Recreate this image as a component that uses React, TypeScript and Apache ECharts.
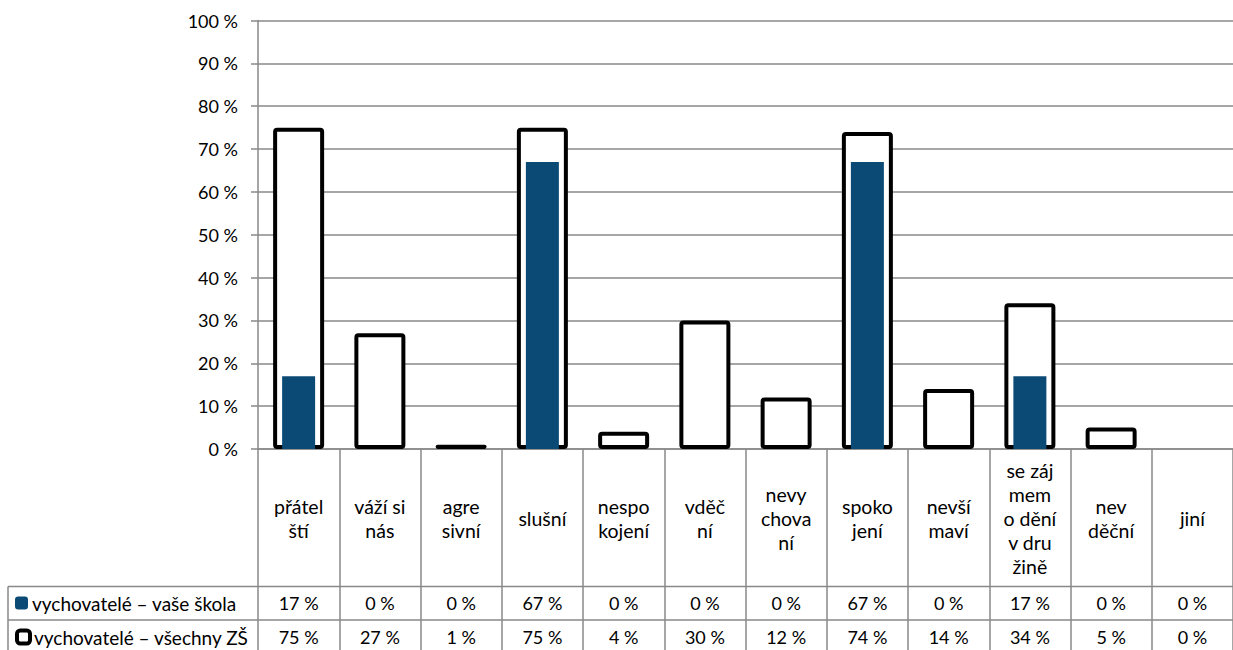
import React, { useEffect, useRef } from "react";
import * as echarts from "echarts";

const categories = [
  "přátel\nští",
  "váží si\nnás",
  "agre\nsivní",
  "slušní",
  "nespo\nkojení",
  "vděč\nní",
  "nevy\nchova\nní",
  "spoko\njení",
  "nevší\nmaví",
  "se záj\nmem\no dění\nv dru\nžině",
  "nev\nděční",
  "jiní",
];
const seriesSchoolName = "vychovatelé – vaše škola";
const seriesAllName = "vychovatelé – všechny ZŠ";
const schoolValues = [17, 0, 0, 67, 0, 0, 0, 67, 0, 17, 0, 0];
const allValues = [75, 27, 1, 75, 4, 30, 12, 74, 14, 34, 5, 0];
const yTicks = [0, 10, 20, 30, 40, 50, 60, 70, 80, 90, 100];

const FONT = "Lato";
const GRAY = "#898989";
const BLUE = "#0B4A74";
const NUM_SIZE = 18;
const TEXT_SIZE = 19.5;
const fmt = (v: number) => `${v} %`;

export default function App() {
  const ref = useRef<HTMLDivElement>(null);
  useEffect(() => {
    document.body.style.margin = "0";
    const chart = echarts.init(ref.current!, undefined, { renderer: "svg" });
    const rowAxis = (offset: number, vals: number[]) => ({
      type: "category",
      gridIndex: 0,
      data: categories,
      position: "bottom",
      offset,
      axisLine: { show: false },
      axisTick: { show: false },
      axisLabel: {
        interval: 0,
        margin: 0,
        verticalAlign: "middle",
        fontFamily: FONT,
        fontSize: NUM_SIZE,
        color: "#000",
        formatter: (_v: string, i: number) => fmt(vals[i]),
      },
    });
    const legendBase = {
      orient: "vertical",
      left: 15,
      padding: 0,
      itemWidth: 13,
      itemHeight: 13,
      selectedMode: false,
      textStyle: {
        fontFamily: FONT,
        fontSize: 19,
        lineHeight: 22,
        color: "#000",
        padding: [0, 0, 0, -1],
      },
    };
    chart.setOption({
      animation: false,
      textStyle: { fontFamily: FONT },
      grid: { left: 258, right: 0, top: 20.5, bottom: 201, containLabel: false },
      legend: [
        {
          ...legendBase,
          top: 592,
          data: [{ name: seriesSchoolName, itemStyle: { color: BLUE, borderWidth: 0 } }],
        },
        {
          ...legendBase,
          top: 626,
          data: [
            {
              name: seriesAllName,
              itemStyle: { color: "#fff", borderColor: "#000", borderWidth: 4 },
            },
          ],
        },
      ],
      xAxis: [
        {
          type: "category",
          data: categories,
          position: "bottom",
          axisLine: { show: true, lineStyle: { color: GRAY, width: 1.5 } },
          axisTick: {
            show: true,
            interval: 0,
            length: 205,
            lineStyle: { color: GRAY, width: 1.5 },
          },
          axisLabel: {
            interval: 0,
            margin: 69,
            verticalAlign: "middle",
            align: "center",
            lineHeight: 24,
            fontFamily: FONT,
            fontSize: TEXT_SIZE,
            color: "#000",
          },
        },
        rowAxis(154, schoolValues),
        rowAxis(188, allValues),
        { type: "category", data: categories, show: false },
      ],
      yAxis: {
        type: "value",
        min: yTicks[0],
        max: yTicks[yTicks.length - 1],
        interval: 10,
        axisLine: { show: true, lineStyle: { color: GRAY, width: 1.5 } },
        axisTick: { show: true, length: 7, lineStyle: { color: GRAY, width: 1.5 } },
        splitLine: { show: true, lineStyle: { color: GRAY, width: 1.5 } },
        axisLabel: {
          margin: 20,
          fontFamily: FONT,
          fontSize: NUM_SIZE,
          color: "#000",
          formatter: (v: number) => fmt(v),
        },
      },
      graphic: [
        { type: "line", shape: { x1: 8, y1: 586.5, x2: 1233, y2: 586.5 }, style: { stroke: GRAY, lineWidth: 1.5 } },
        { type: "line", shape: { x1: 8, y1: 620, x2: 1233, y2: 620 }, style: { stroke: GRAY, lineWidth: 1.5 } },
        { type: "line", shape: { x1: 8, y1: 586.5, x2: 8, y2: 650 }, style: { stroke: GRAY, lineWidth: 1.5 } },
      ],
      series: [
        {
          name: seriesAllName,
          type: "bar",
          xAxisIndex: 0,
          barWidth: 51,
          itemStyle: { color: "#fff", borderColor: "#000", borderWidth: 4, borderRadius: 2 },
          data: allValues.map((v) => (v === 0 ? { value: v, itemStyle: { borderWidth: 0 } } : v)),
        },
        {
          name: seriesSchoolName,
          type: "bar",
          xAxisIndex: 3,
          barWidth: 33,
          itemStyle: { color: BLUE },
          data: schoolValues,
        },
      ],
    });
    return () => chart.dispose();
  }, []);
  return <div ref={ref} style={{ width: 1233, height: 650 }} />;
}
